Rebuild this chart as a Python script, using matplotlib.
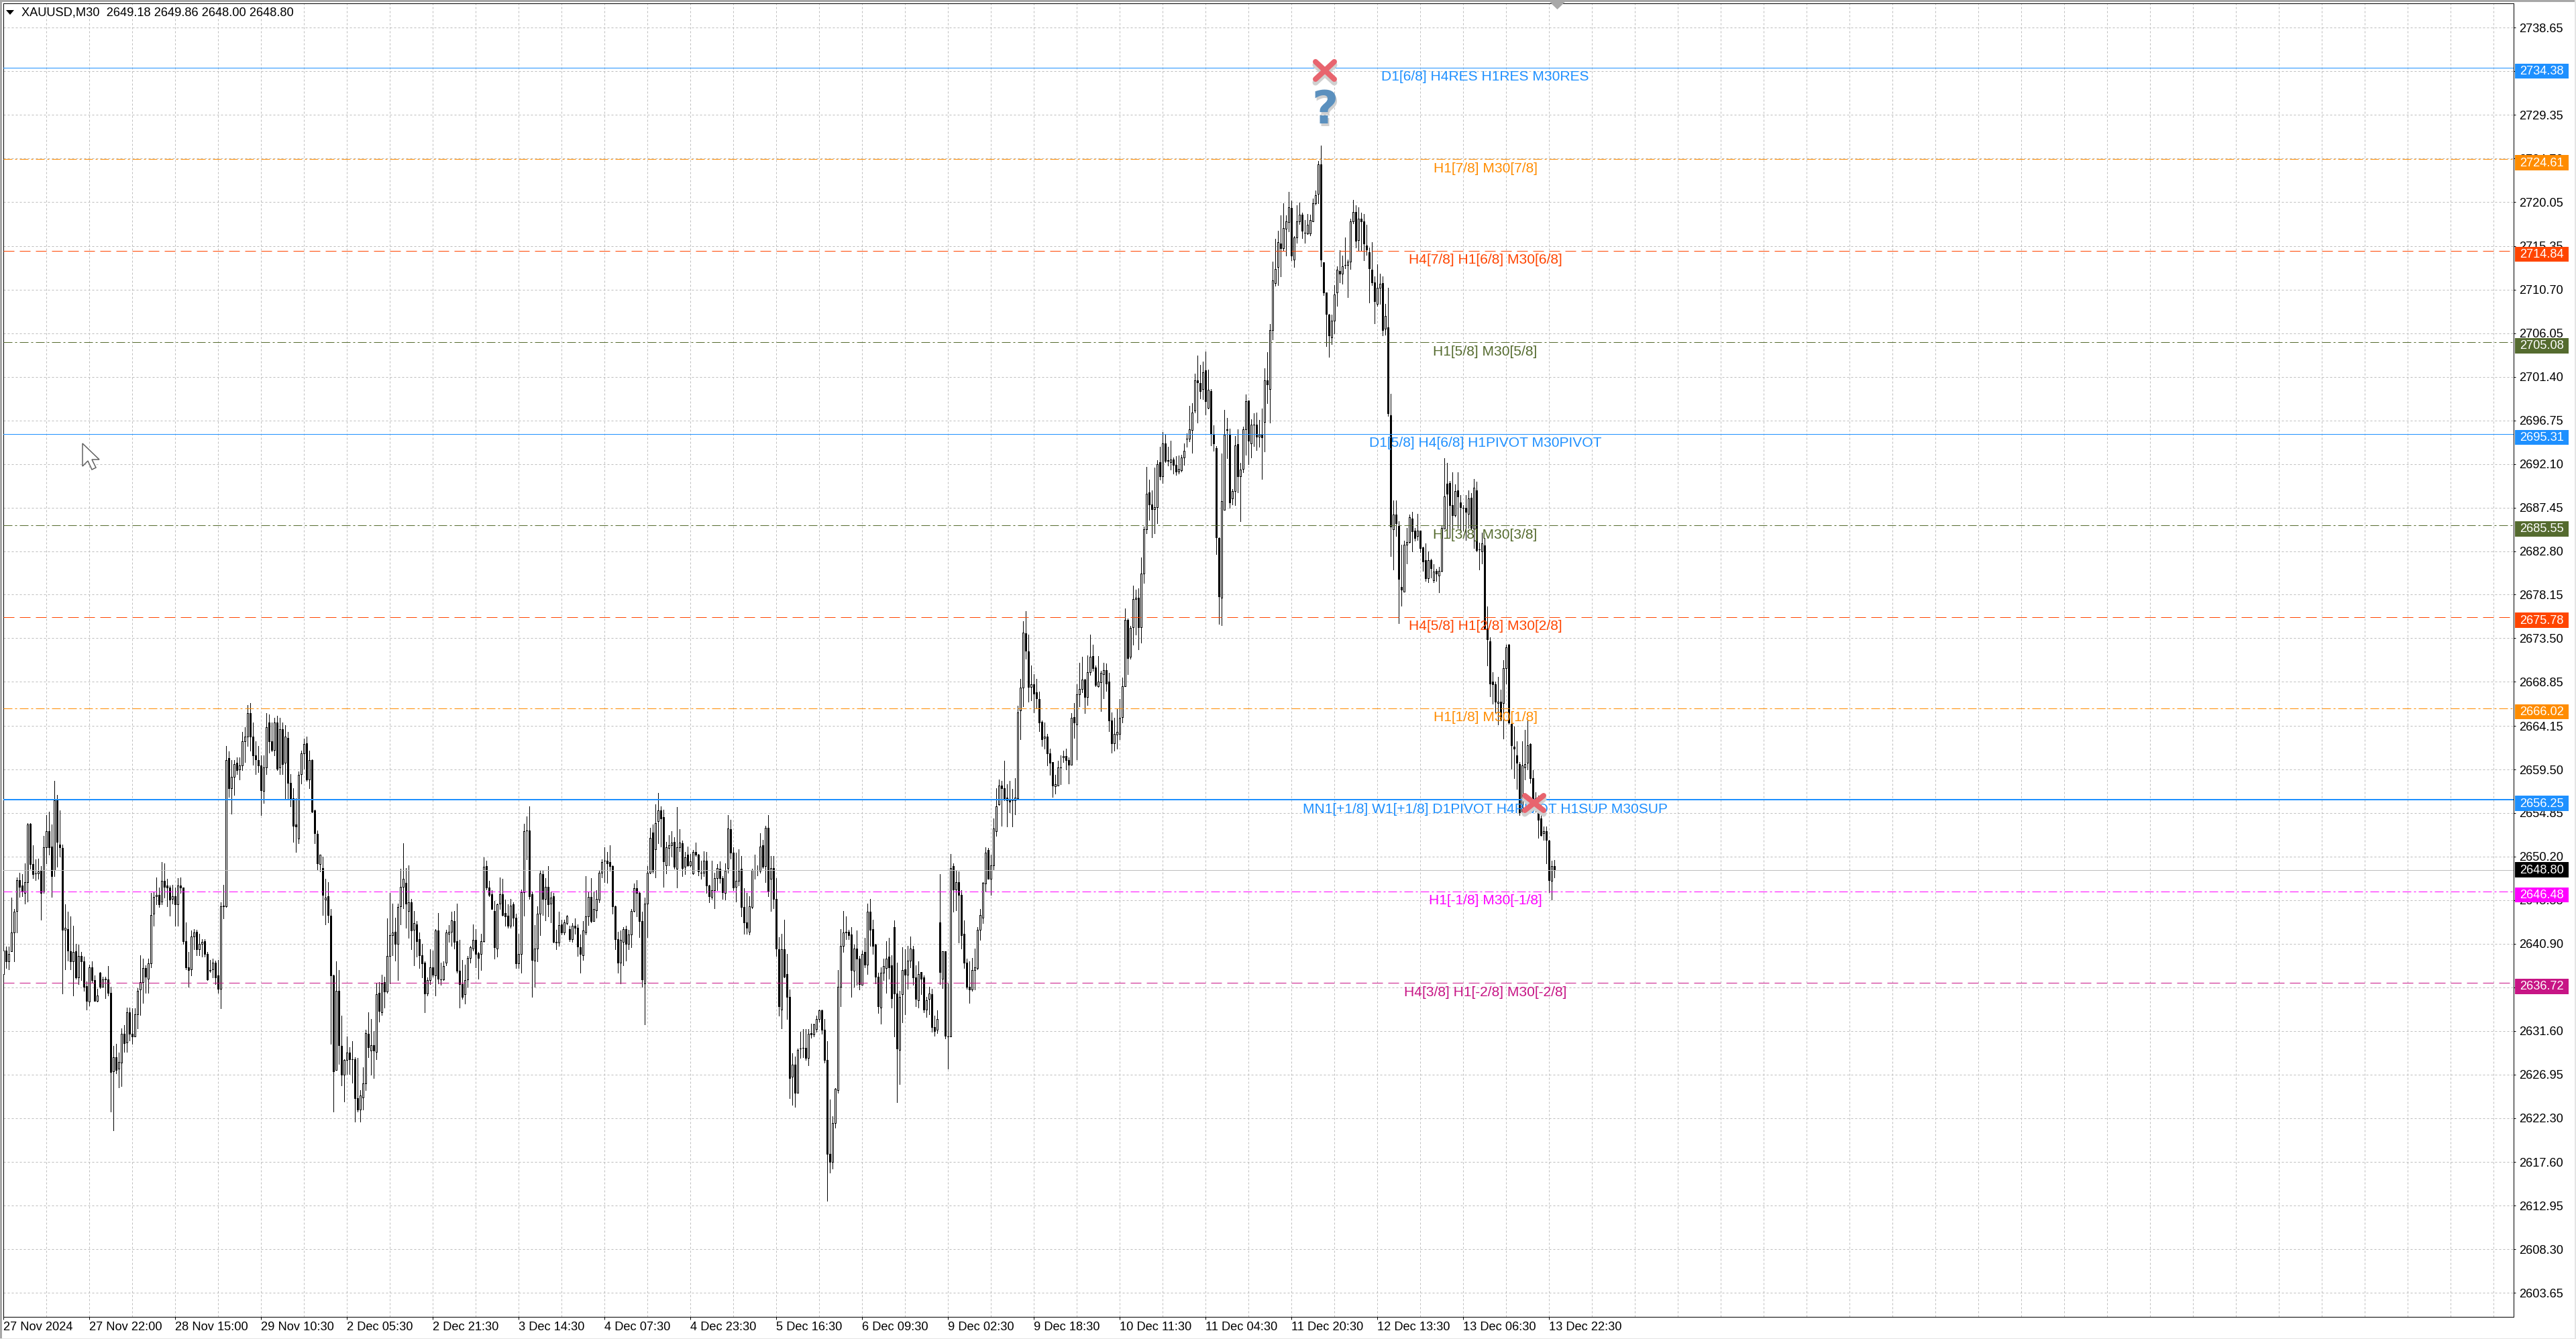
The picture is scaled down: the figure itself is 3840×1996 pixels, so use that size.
#!/usr/bin/env python3
"""XAUUSD M30 chart with level lines, MT4 look. Prices are kept as offsets from PRICE_BASE."""
import matplotlib
matplotlib.use("Agg")
import matplotlib.pyplot as plt
from matplotlib.patches import Rectangle, Polygon
from matplotlib.lines import Line2D
from matplotlib.transforms import IdentityTransform

PRICE_BASE = 2600.0

# (open, high, low, close)
BARS_A = [(37.7,40.3,36.6,40.2),(40.2,40.6,38.3,39.0),(39.0,40.6,38.2,39.8),(40.1,45.8,40.1,42.1),(42.1,44.6,39.0,44.3),(44.4,48.0,42.1,47.7),(47.7,48.5,45.9,47.0),(47.1,48.3,46.0,46.5),
          (46.3,49.5,45.2,47.5),(47.5,53.8,45.4,53.6),(53.7,53.8,48.9,49.4),(49.4,51.4,47.9,48.3),(48.4,49.9,47.7,48.4),(48.4,50,47.8,48.6),(48.7,49.2,43.5,46.3),(46.5,52.4,46.3,51.2),
          (51.2,54.6,49.5,52.9),(52.9,55,50.4,51.2),(51.3,53.6,45.9,48.1),(48.8,58.3,48.1,56.2),(56.2,56.8,49.1,51.8),(51.5,55.1,50.2,51.2),(51.1,51.5,35.6,42.4),(42.4,45.1,38.2,42.6),
          (42.5,44.3,39.1,40.2),(40.1,43.8,38.2,39.0),(39.0,42.8,35.4,40.0),(40.1,40.9,37.2,37.3),(37.3,40.8,36.6,39.6),(39.6,40,37,39.0),(39.0,39.5,35.9,36.3),(36.4,36.9,33.9,34.8),
          (34.7,38.7,34.3,38.4),(38.4,39,36.8,37.0),(37,37.5,34.8,34.8),(34.8,36.1,34.7,35.4),(37.8,37.9,36.2,36.3),(36.3,37.4,36.3,37.1),(37.1,37.4,35.1,37.2),(37.1,38.5,35.4,35.7),
          (35.7,36.3,23,27.2),(27.3,30,21,28.8),(28.8,30.2,27.1,27.4),(27.6,29.3,25.6,28.3),(28.2,31.9,25.7,31.3),(31.3,32.2,29.4,30.3),(30.4,34.1,29.4,33.6),(33.6,34.1,30.6,31.3),
          (31.3,34,30.2,31.0),(31,34,31,33.4),(33.4,36.2,31.9,35.9),(36,39.7,33.3,36.8),(36.8,39.3,34.6,38.3),(38.3,38.6,35.7,37.4),(37.2,39.3,35.7,38.8),(38.8,46.3,38.4,44.0),
          (44.1,46.5,42.8,45.9),(46,48,45.1,46.1),(46.1,46.9,44.8,45.1),(45.4,49.6,45.1,47.6),(47.6,49.5,45.8,47.0),(47.1,47.8,44.9,46.9),(46.9,47.1,43.9,45.6),(45.7,47.2,45.2,46.0)]
BARS_B = [(46,46.9,42.8,45.1),(45.1,47.9,42.8,47.1),(47.1,48,46.3,46.9),(46.9,46.9,40.9,41.2),(41.2,43.2,38.2,38.4),(38.4,40,36.3,38.1),(38.2,42.3,37.5,41.7),(41.7,42.5,40.3,42.1),
          (42.2,42.4,39.7,40.3),(40.3,42,39.7,40.9),(40.9,41.4,39.5,41.1),(41.2,41.4,39.5,39.8),(39.8,40,37,37.1),(38,39.2,37.9,38.1),(38.2,39.3,37.3,38.9),(38.9,39.1,36.6,37.3),
          (37.5,39.2,35.7,36.1),(36.1,45.3,34.0,44.9),(45,47.2,43.6,44.9),(44.9,62.0,44.8,60.5),(60.7,61.4,56.6,57.5),(57.5,60.5,54.8,58.7),(58.7,60.5,56.8,60.1),(60.2,60.8,59.0,59.4),
          (59.5,60.8,58.4,59.9),(59.9,63.5,59.4,62.5),(62.5,64,60.3,63),(63,66.4,62,65.5),(65.5,66.6,61.5,63),(63,64.5,60,61),(61,62.5,59,60.6),(60.5,62,59.2,59.9),
          (59.9,61,54.6,57.3),(57.2,61,55.9,59.7),(59.7,65.5,59,64),(64.5,65.4,61.3,62.5),(62.5,64.5,61.4,61.6),(61.6,65,61,64.5),(64.5,65.2,59.4,59.6),(59.7,65,59,63.8),
          (63.8,64.5,59,60.1),(60.2,64.2,56.3,63),(62.9,63.5,56.3,58.1),(58.1,59,55.6,56.4),(56.4,57.5,51.8,53.5),(53.6,56.4,50.7,53.4),(52.1,59.3,51.6,58.9),(59,61.5,58,61.2),
          (61.2,62.8,59.6,62.2),(62.3,63,58.3,58.4),(58.4,61.5,57.5,60.5),(60.5,60.6,54.9,55),(55.1,55.2,51.6,52.7),(52.6,53,48.8,49.5),(49.4,50.4,48.6,50.4),(49,50.2,44,46.1),
          (45.6,47.8,43,45.8),(46,47.5,43.2,44),(43.9,44.6,30.2,37.5),(37.5,37.6,23,27.3),(27.4,39,27.4,35.9),(35.9,38.1,28.1,30.1),(30,33.2,25.8,26.9),(26.9,28.6,24.1,28.5)]
BARS_C = [(28.5,31,27,29.3),(29.3,29.9,27,28.6),(28.6,30.5,26.1,28.6),(28.6,28.8,21.9,24.4),(24.4,28.7,23,23.2),(23.2,25.3,21.9,24.7),(24.5,27.7,23.2,26),(26,31.7,25.3,31.4),
          (31.3,33.6,28.8,29.9),(29.5,32.9,26.9,30.1),(30.1,31.6,26.6,29.5),(29.4,36.7,28.6,35.5),(35.7,36.8,32.6,33.7),(33.6,37.6,33.3,36.7),(36.8,37.4,34.1,35.8),(35.8,43.6,35.7,39.6),
          (39.6,46.3,36.7,41.8),(41.8,45.2,39.7,42.1),(42.2,43.7,39.1,40.9),(40.9,45.2,37,44.8),(44.9,48.9,43,47),(47,51.6,44.7,47.8),(47.4,49,42.6,45.2),(44.4,49.3,41.5,45.3),
          (45.3,45.7,40.3,42.3),(42.4,44.4,38.6,43.1),(43,43.3,39.5,41.2),(41.4,42.1,38.3,39.7),(39.7,40.9,37.3,38.8),(38.9,39,33.6,35.6),(35.6,37.3,35.4,37),(37,40.3,36.6,38.4),
          (38.4,40.2,37.4,37.6),(37.5,42.5,35.4,42.3),(42.3,44.2,36.7,37.2),(37.1,38.9,36.5,37.1),(37.1,39,37,38.5),(38.9,42.4,38.6,42.1),(42,42.9,41.1,42.2),(42.2,44.3,40.7,43.4),
          (43.3,44.4,40.4,41.1),(41.2,45.2,37.8,38),(38,41.3,34.1,36.6),(36.6,39.2,35,35.2),(35.5,38.7,34.5,37),(37.1,39.6,36.3,39.4),(39.4,40.7,38.9,40.5),(40.4,43,40.2,41.3),
          (41.3,42.5,38.4,39.8),(39.9,40,37.2,39.4),(39.8,42,38.1,41.2),(41.2,50.1,41.1,49.1),(49.2,49.8,46.7,46.9),(46.9,47.6,46,46.1),(46.2,46.6,44.6,44.6),(44.4,45.5,39.3,40.5),
          (40.4,45.2,39.5,45.1),(45.2,48,44.6,46.2),(46.2,47.8,43.9,44),(44.2,45.6,42.8,43.8),(43.9,45.1,42.6,42.8),(42.8,45.7,42.6,45),(45.1,45.3,42.8,43.7),(43.7,44.1,38.3,38.8)]
BARS_D = [(38.8,42,38.3,39.8),(39.8,46.7,37.8,46.4),(46.4,53.7,43.9,52.9),(53,54.5,49.9,53),(53,55.6,45.7,46),(46.2,46.5,35.2,39.2),(39.1,42.9,36.3,40.4),(40.4,44.9,39,44.1),
          (44.1,48.7,41.8,48.4),(48.3,48.8,44,45.7),(45.7,47.9,43.4,47),(47,49.2,43.8,45.1),(45.2,46.5,43.2,45.8),(46,46.3,41,41.1),(41.1,42.4,40.3,41),(41,44.3,40.7,42.9),
          (43,43.5,41.9,42.1),(42.1,43.5,41.9,43.2),(43.1,44,43,43.8),(42.5,42.8,41.2,41.4),(41.4,43.1,41.1,42.8),(42.8,43.6,42,42.6),(42.6,43,39.6,40.6),(40.5,41.9,37.8,39.8),
          (39.7,43.3,39.2,42.3),(42.1,48.1,41.9,43.8),(43.8,46.4,42.9,45.9),(45.9,47.9,43.2,43.3),(43.3,46.5,43.3,44.6),(44.5,46.6,43.7,45.7),(45.6,48.7,45.3,48.5),(48.5,49.9,48,49.6),
          (49.8,51.2,47.5,49.8),(49.8,50.7,47.4,49.5),(49.6,51.4,48.7,49.2),(49.2,49.3,44.1,44.9),(44.9,45,40.3,41.4),(41.4,42.2,37.8,38.9),(38.9,42.3,36.7,41.3),(41.1,42.7,38.6,42.5),
          (42.5,42.8,39.1,40.9),(40.9,42.4,40.3,41.9),(41.9,44.6,40.5,44.4),(44.4,47.3,44.3,46.8),(46.8,47.7,43.8,46.3),(46.3,46.4,41.6,43.3),(43.3,44.3,36.3,37.1),(36.7,45.8,32.3,45.2),
          (45.2,49.2,41.6,48.5),(48.5,53.3,48.4,52.2),(52.8,53.6,48.5,48.7),(51,55.8,48,53.8),(54,57,51.6,55.1),(55.1,55.6,51.3,54.3),(54.4,55.2,47,49.7),(49.3,51.8,48.4,51.2),
          (51.1,52.5,49.3,51.4),(51.4,52.9,50.2,51.7),(51.8,52.3,48.9,49.1),(48.9,55.5,46.9,51.2),(51.2,53.1,50.8,51.7),(51.6,51.9,48.1,49),(49.1,50.7,48.3,50.1),(50.4,51.3,49.2,49.3)]
BARS_E = [(49.3,50.5,49.1,49.7),(48.4,50.9,48.3,50.7),(50.7,51.7,50.3,50.4),(50.4,50.5,48.2,48.6),(48.5,49.8,47.8,48.5),(48.5,50.8,48.1,49.8),(49.8,50.7,46.3,47.1),(47.1,47.2,45.3,46),
          (45.9,49.8,45.7,46.6),(46.6,48.5,44.7,47.9),(47.9,49.4,46.6,49),(48.9,49.7,47.4,47.9),(47.9,48.1,45.7,46.4),(46.3,49.5,45.6,48.7),(49,54.6,48.5,53.2),(53.1,54.1,50,50.6),
          (50.6,51.2,46.6,46.9),(47,50.6,45.4,47.6),(47.6,51,47.1,48.7),(48.9,50.3,43.8,44.8),(44.8,46.8,42,43.2),(43.2,46.3,42,42.6),(42.2,46,41.9,44.9),(44.8,48.9,44.7,48.8),
          (48.8,50.4,47.8,48.8),(48.8,49.3,48.2,48.8),(48.7,52.7,48.5,51.3),(51.4,52,49,49.1),(49.2,53.5,47.5,53.3),(53.3,54.6,46,46.5),(47.8,50.3,44.4,49),(49,50.3,44.7,45.7),
          (45.7,47.9,39.6,40.4),(40.3,41.6,33.2,34.2),(33.9,42,31.9,40.3),(40.3,43.5,37.3,37.4),(37.7,39.8,32.9,35.2),(35.2,36,24.4,26.6),(26.7,29.2,23.7,28),(28,28.9,23.5,25),
          (25,29.7,25,29.6),(29.7,31.5,28.7,29.7),(29.8,31.8,28.8,29.8),(29.8,31.8,28.5,28.7),(28.7,31.8,27.9,31.3),(31.4,32.4,30.9,31.2),(31.2,32.4,31,32.3),(31.8,33.2,31.5,32.9),
          (32.9,33.9,32.6,33.8),(33.8,33.9,31.3,31.7),(31.7,32.9,28.2,28.5),(28.5,30.5,13.5,18.5),(18.5,24.3,16.5,17.6),(17.6,22.5,16.9,21.8),(21.8,25.5,21.3,25.4),(25.3,38.1,25,36.3),
          (36.3,42.5,34.2,40.7),(40.7,44.4,40,42.1),(42.1,43.8,41.4,42.2),(42.2,42.4,41.4,41.8),(41.9,42.7,35.2,38.1),(38,40.8,36.3,40.4),(40.4,42.3,36.5,39.3),(39.3,39.6,36,36.6)]
BARS_F = [(36.5,40.2,36.5,39.8),(40,41.5,38.4,38.7),(38.7,45.2,37.7,44.3),(44.3,45.7,40.7,42.4),(42.5,43.5,39.8,40.7),(40.8,40.9,36.7,37.4),(37.4,37.8,33.5,34.2),(34.1,38.4,32.4,37.8),
          (37.8,39.3,37,38.5),(38.3,41.2,35.7,39.3),(39.5,41.5,37.2,38.4),(38.6,39.7,34.1,35.1),(42.7,43.4,31,35.6),(35.6,38.9,24,29.7),(29.6,35.9,25.9,35.2),(35.5,40.5,32.5,38.1),
          (38.2,40.3,33.4,37.6),(37.6,40.7,36.1,39.1),(39.1,41.7,38.4,40.4),(40.3,40.7,36.5,37.3),(37.3,38.6,34.2,35),(34.9,39,34.1,37.7),(37.9,37.9,35.5,37.2),(37.3,37.5,33.6,33.9),
          (33.9,35.2,33.1,34.9),(35,36.3,33.4,35.6),(35.5,36.1,31.5,32),(32,33.2,31.1,31.6),(31.7,33.8,31.4,32.9),(43.2,48.3,36.6,37.9),(37.2,40.1,36.2,40.1),(40.1,40.1,30.8,31.1),
          (31,36.7,27.6,31),(31,50.5,31,49),(49.2,49.5,44.3,46.7),(46.7,48.7,44.5,47.5),(47.5,48.6,41,46.1),(46.1,46.6,40.4,41.8),(42,43.4,38.3,38.9),(38.9,39.3,36.1,36.3),
          (36.3,39,34.6,36),(36,39.4,35.9,38.1),(38.1,40.4,36,38.4),(38.3,42.7,38.2,42.4),(42.4,44.6,41.3,44),(43.7,47.5,43.1,47.4),(47.3,51.2,46.5,50.6),(50.9,51.1,47.8,47.8),
          (47.8,50.4,46.1,49.3),(49.3,54.3,48.8,53.2),(52.9,57.5,52.4,55.6),(55.8,58.4,55.7,57.8),(57.8,58.3,53.5,57.5),(57.5,60.4,56.2,56.4),(56.5,57.9,53.4,56.2),(56.3,58.3,54.9,56.1),
          (56.3,57.4,53.4,56.2),(56.2,58.6,54.7,56.5),(56.4,66.3,56.3,65.6),(65.8,69.2,62.7,68.2),(68.2,75.3,66.2,74.1),(74,76.4,71.3,72.2),(72.1,73.9,66.7,68.3),(68.3,70.6,66.9,68.6)]
BARS_G = [(68.6,69.7,65.6,67.6),(67.7,69.2,66,67.1),(67,67.8,63.6,64.5),(64.6,64.7,62,62.7),(62.9,64.5,61.7,63),(63,63.3,59.9,61.2),(61.2,61.7,58.9,60.2),(60.3,60.3,56.6,57.8),
          (57.7,58.9,56.9,57.9),(57.8,60.4,57.8,59.7),(59.7,61,57.9,59.7),(60.8,61.5,60.3,60.9),(60.9,61.7,59.5,60.5),(60.5,60.8,58,60),(60,65.5,60,65),(65.1,66.6,62.9,64.5),
          (64.3,68.6,60.6,67.5),(67.5,70.9,66.2,68.1),(68.1,71.5,67.7,69.1),(69.1,69.2,65.5,67.2),(67.2,71.7,66.4,69.9),(69.9,73.9,69.6,71.5),(71.6,72.8,70,70.3),(70.4,70.6,68.4,68.5),
          (68.4,71.6,68.3,68.9),(68.8,70,65.7,69.8),(69.7,70.9,67.1,70.1),(70.1,70.8,67.9,68.7),(68.9,69.8,63.6,64.7),(64.7,65.6,61.3,62.3),(62.3,65,61.5,63.3),(63.2,66,61.7,63.5),
          (63.3,67,62.7,65),(65.1,69.3,64.5,68.4),(68.4,76.7,68.4,75.5),(75.5,75.6,69.7,71.4),(71.5,74.8,71.3,74.6),(74.7,79.1,72.8,77.7),(77.7,78.7,73.9,77.8),(77.8,78.8,72.3,74.7),
          (74.7,82.1,73,80.4),(80.4,85.4,79.4,85.1),(85.1,91.8,84.7,88.9),(89.1,90.4,86.1,87.8),(87.8,89.3,84.3,87.3),(87.3,91.7,84.7,87.5),(87.5,92.5,85.8,92.1),(92.3,93.9,90.4,90.8),
          (90.8,95.5,90.1,94.3),(94.3,95.2,92.3,92.4),(92.5,93.9,91.9,92.4),(92.3,94.6,91.5,92.6),(92.6,92.8,91.1,92),(92,92.9,90.9,91.3),(91.3,93,91.1,91.6),(91.4,93.1,91.3,92.8),
          (92.8,94.3,92,93.5),(94.8,95.4,93.9,94.8),(94.8,98.3,94.5,95.8),(95.7,98.6,93.3,97.6),(97.8,101.7,97.6,101),(101,103.7,96.5,100.8),(100.7,102.7,99.1,99.9),(100.1,103,99,101.9)]
BARS_H = [(102.1,104.1,97.4,98.8),(98.1,102.2,98,100),(99.9,100.1,94.1,95.4),(95.3,96.2,93.5,94.3),(93.8,94,82.5,84.3),(84.2,84.3,75,78),(77.8,93.2,74.9,88.1),(87.2,97.9,87.2,95.2),
          (95.7,97,92.7,95.8),(95.3,95.9,87.4,88),(88.4,89.4,87.8,89.2),(89.2,95.1,87.7,94.1),(94.2,95.8,89.1,90.8),(90.8,92.2,86,91.5),(91.6,96.1,91.2,95.8),(95.8,99.5,93.1,98.8),
          (98.9,98.9,92.1,94.6),(94.3,96.9,92.8,96.3),(96.3,97.5,94,96.3),(96.3,97.6,93.6,95),(95,96.8,93.9,95.2),(95.2,98,90.5,94.9),(96.6,102.3,93.4,101),(101,104,98.6,100.6),
          (100.1,107,96.5,106.4),(106.4,113.7,105.4,111.7),(111.4,116.1,111.1,112.9),(113.1,117,111.2,115.8),(115.6,118.6,112.1,115.1),(115.1,119.9,114.9,117.3),(117.2,118.6,114.3,118),(117.9,121.1,116.9,119.5),
          (119.4,120.2,113.8,114.3),(113.9,116.4,113.1,116.3),(116.3,119.7,115.7,118),(118,120,117.7,118.7),(118.7,118.9,116.2,117),(116.8,118.1,115.7,116.8),(116.7,118.8,116.6,117.6),(116.7,118.7,116.5,118.1),
          (118,120.4,118,119.9),(119.9,121.3,119.8,120.8),(120.9,124.4,119.9,124.1),(124.1,126.1,113.2,113.9),(113.6,113.6,110.1,110.4),(110.4,110.4,104.7,108.1),(108,108.1,103.5,105.8),(105.6,108,104.9,107.4),
          (107.4,111.2,106,110.2),(110.4,113.2,109,112.8),(112.7,114.9,111.5,112.4),(112.4,114.3,111.3,113.2),(113.3,116.3,113,113.3),(113.3,113.9,109.9,113.7),(113.7,118.3,112.9,118),(118,120.3,117.8,119),
          (119,119.7,115.2,115.9),(116,119.5,114.9,118.3),(118.3,118.9,114.9,118),(118,118.8,113.8,115.6),(115.4,117.6,114.4,115),(114.7,115.2,109.3,113),(112.8,115.8,111.2,111.5),(111.5,112.1,107.1,109.5)]
BARS_I = [(109.2,113.4,109,110.9),(110.9,112.4,109.2,111.3),(111.4,112.1,105.8,106.4),(106.5,109.2,105.9,107.9),(106.7,110.9,97.2,97.5),(97.3,99.6,82.3,85.4),(85.1,88.2,80.8,86.7),(86.7,88.2,84.4,85.8),
          (85.5,86,75.1,79.8),(79,83.5,77,78.7),(78.5,83.9,78.5,83.5),(83.5,85.3,81.5,83.8),(83.8,86.7,83.7,86.4),(86.3,87,82.8,84.9),(85,85.3,83.9,84.2),(84.4,86.8,84,85),
          (85,85,82.7,83.1),(83.2,83.3,80.7,81.7),(81.8,83.6,79.6,79.9),(79.9,82.8,79.5,81.8),(81.8,82,80,81),(79.7,81.4,79.5,80.6),(80.7,80.9,79.6,80.4),(80.2,81.1,78.4,80.7),
          (80.7,85.5,80.6,85.3),(85.2,92.7,85.2,88.6),(90,92.2,84.2,88.9),(90.1,90.3,84.3,87.7),(87.7,91.2,84.4,86.6),(86.6,89.9,86.5,89.2),(89.3,91.2,85.3,88.6),(88,88.8,85.1,87.5),
          (87.4,87.7,85,87.4),(87.4,88.8,84,87),(86.8,89.3,85.3,88.4),(88.5,89,85.1,85.3),(85.2,90.5,83.1,89.6),(89.3,90.2,82.8,82.9),(83,83.7,80.8,83),(82.8,84.8,81.5,83.6),
          (83.4,84.2,74.5,74.5),(74.5,76.9,70.6,73.4),(73.2,73.6,67.3,68.7),(68.9,69.9,66.5,68.6),(68.6,68.9,65.6,66.7),(66.6,69.4,64.3,66.7),(66.7,68,64.7,64.8),(66.6,71.2,62.8,70.3),
          (70.3,72.8,68.7,72.5),(72.8,72.9,64.4,64.5),(64.4,64.7,59.6,62.1),(61.9,64.1,58.6,61.7),(61,62.5,57.4,60.2),(60.1,60.3,54.6,54.9),(55,62.5,54.9,59.9),(59.7,63.7,58.4,60.1),
          (60.2,64.7,59.5,62.1),(62.2,62.3,58.1,58.6),(58.6,59.4,55.7,56),(56.4,57.1,55,55.7),(55.9,56.7,52.2,54.1),(54.3,55.9,52.4,52.5),(52.7,53.4,52,52.9),(52.9,53.4,49.5,52),
          (51.9,52,46.4,47.7),(47.6,49.8,45.6,49.2),(49.18,49.86,48.0,48.8)]

Y_TICKS = [2738.65, 2734.00, 2729.35, 2724.70, 2720.05, 2715.35, 2710.70, 2706.05, 2701.40, 2696.75,
           2692.10, 2687.45, 2682.80, 2678.15, 2673.50, 2668.85, 2664.15, 2659.50, 2654.85, 2650.20,
           2645.55, 2640.90, 2636.25, 2631.60, 2626.95, 2622.30, 2617.60, 2612.95, 2608.30, 2603.65]
X_LABELS = ["27 Nov 2024", "27 Nov 22:00", "28 Nov 15:00", "29 Nov 10:30", "2 Dec 05:30", "2 Dec 21:30",
            "3 Dec 14:30", "4 Dec 07:30", "4 Dec 23:30", "5 Dec 16:30", "6 Dec 09:30", "9 Dec 02:30",
            "9 Dec 18:30", "10 Dec 11:30", "11 Dec 04:30", "11 Dec 20:30", "12 Dec 13:30", "13 Dec 06:30",
            "13 Dec 22:30"]

LEVELS = [2734.38, 2724.61, 2714.84, 2705.08, 2695.31, 2685.55, 2675.78, 2666.02, 2656.25, 2646.48, 2636.72]
LEVEL_TEXT = ["D1[6/8] H4RES H1RES M30RES", "H1[7/8] M30[7/8]", "H4[7/8] H1[6/8] M30[6/8]", "H1[5/8] M30[5/8]",
              "D1[5/8] H4[6/8] H1PIVOT M30PIVOT", "H1[3/8] M30[3/8]", "H4[5/8] H1[2/8] M30[2/8]", "H1[1/8] M30[1/8]",
              "MN1[+1/8] W1[+1/8] D1PIVOT H4PIVOT H1SUP M30SUP", "H1[-1/8] M30[-1/8]", "H4[3/8] H1[-2/8] M30[-2/8]"]
LEVEL_COLOR = ["#1E90FF", "#FF8C00", "#FF4500", "#556B2F", "#1E90FF", "#556B2F", "#FF4500", "#FF8C00",
               "#1E90FF", "#FF00FF", "#C71585"]
LEVEL_STYLE = ["solid", "dashdot", "dash", "dashdot", "solid", "dashdot", "dash", "dashdot", "solid", "dashdot", "dash"]
LEVEL_WIDTH = [1, 1, 1, 1, 1, 1, 1, 1, 2, 1, 1]
BID = 2648.80
HEADER = "XAUUSD,M30  2649.18 2649.86 2648.00 2648.80"

W, H = 3840, 1996
PX = 0.72  # one pixel in points at dpi 100
AX_L, AX_R, AX_T, AX_B = 5, 3747, 4.5, 1962.5
BAR0_PX, BAR_STEP = 5.3, 4.0
PRICE0, PRICE0_Y, PX_PER_UNIT = 2738.65, 41.3, 13.97

bars = BARS_A + BARS_B + BARS_C + BARS_D + BARS_E + BARS_F + BARS_G + BARS_H + BARS_I
assert len(bars) == 579, len(bars)
opens = [PRICE_BASE + b[0] for b in bars]
highs = [PRICE_BASE + b[1] for b in bars]
lows = [PRICE_BASE + b[2] for b in bars]
closes = [PRICE_BASE + b[3] for b in bars]

plt.rcParams["font.family"] = ["Liberation Sans", "DejaVu Sans"]
plt.rcParams["lines.scale_dashes"] = False
plt.rcParams["lines.dash_capstyle"] = "butt"
FS = 18.3 * PX
FS_LEVEL = 21 * PX

fig = plt.figure(figsize=(W / 100, H / 100), dpi=100, facecolor="white")
ax = fig.add_axes([AX_L / W, 1 - AX_B / H, (AX_R - AX_L) / W, (AX_B - AX_T) / H])
ax.set_xlim((AX_L - BAR0_PX) / BAR_STEP, (AX_R - BAR0_PX) / BAR_STEP)
ax.set_ylim(PRICE0 - (AX_B - PRICE0_Y) / PX_PER_UNIT, PRICE0 + (PRICE0_Y - AX_T) / PX_PER_UNIT)
ax.set_axisbelow(True)
for s in ax.spines.values():
    s.set_linewidth(1 * PX)
    s.set_color("black")

# grid: a vertical line every 16 bars, labels every 32
grid_dash = (0, (3 * PX, 3 * PX))
for x in range(16, 936, 16):
    ax.axvline(x, color="#BDBDBD", lw=1 * PX, ls=grid_dash, zorder=1)
for y in Y_TICKS:
    ax.axhline(y, color="#BDBDBD", lw=1 * PX, ls=grid_dash, zorder=1)

ax.yaxis.tick_right()
ax.set_yticks(Y_TICKS)
ax.set_yticklabels(["%.2f" % y for y in Y_TICKS], fontsize=FS)
ax.tick_params(axis="y", direction="out", length=3 * PX, width=1 * PX, pad=5.5 * PX)
ax.set_xticks([32 * i for i in range(len(X_LABELS))])
ax.set_xticklabels(X_LABELS, fontsize=FS, ha="left")
ax.tick_params(axis="x", direction="out", length=4 * PX, width=1 * PX, pad=3.5 * PX)

# candles
xs = list(range(len(bars)))
ax.vlines(xs, lows, highs, color="black", lw=1 * PX, zorder=2, antialiased=False)
up = [i for i in xs if closes[i] >= opens[i]]
down = [i for i in xs if closes[i] < opens[i]]
ax.bar(up, [closes[i] - opens[i] for i in up], bottom=[opens[i] for i in up], width=0.5,
       facecolor="white", edgecolor="black", linewidth=1 * PX, zorder=3, antialiased=False)
ax.bar(down, [opens[i] - closes[i] for i in down], bottom=[closes[i] for i in down], width=0.5,
       facecolor="black", edgecolor="black", linewidth=1 * PX, zorder=3, antialiased=False)

# level lines with their captions and price boxes
DASHES = {"solid": "-", "dash": (0, (16 * PX, 8 * PX)), "dashdot": (0, (13 * PX, 4 * PX, 3 * PX, 4 * PX))}
for lvl, txt, col, st, lw in zip(LEVELS, LEVEL_TEXT, LEVEL_COLOR, LEVEL_STYLE, LEVEL_WIDTH):
    ax.axhline(lvl, color=col, lw=lw * PX, ls=DASHES[st], zorder=4)
    ax.annotate(txt, xy=(552.2, lvl), xytext=(0, -14), textcoords="offset pixels", color=col, fontsize=FS_LEVEL,
                ha="center", va="center", zorder=5, annotation_clip=False)
ax.axhline(BID, color="#BDBDBD", lw=1 * PX, zorder=4)

fig.canvas.draw()
ident = IdentityTransform()


def ypx(price):
    return ax.transData.transform((0, price))[1]


def box(price, col, shift):
    yc = ypx(price) - shift
    fig.add_artist(Rectangle((3749, yc - 11.3), 80, 22.6, transform=ident, facecolor=col, edgecolor="none", zorder=6))
    fig.add_artist(plt.Text(3789, yc - 0.5, "%.2f" % price, transform=ident, color="white", fontsize=FS,
                            ha="center", va="center", zorder=7))


for lvl, col in zip(LEVELS, LEVEL_COLOR):
    box(lvl, col, 5.2)
box(BID, "black", 0)

# window edges
for rect, col in [((0, H - 2.5, W, 2.5), "#A8A8A8"), ((0, 0, 2.5, H), "#A8A8A8"),
                  ((W - 2, 0, 2, H), "#E4E4E4"), ((0, 0, W, 1.5), "#E4E4E4")]:
    fig.add_artist(Rectangle(rect[:2], rect[2], rect[3], transform=ident, facecolor=col, edgecolor="none", zorder=8))

# header and small markers
fig.add_artist(Polygon([(9, H - 15), (21, H - 15), (15, H - 22)], transform=ident, facecolor="black", zorder=8))
fig.add_artist(plt.Text(31.5, H - 19.5, HEADER, transform=ident, color="black", fontsize=FS, ha="left", va="center", zorder=8))
fig.add_artist(Polygon([(2309, H - 2), (2334, H - 2), (2321.5, H - 14)], transform=ident, facecolor="#A8A8A8",
                       edgecolor="none", zorder=9))

# mouse cursor
arrow = [(0, 0), (0, 34), (8, 26), (14, 39), (20, 36), (14, 24), (25, 24)]
fig.add_artist(Polygon([(123 + a, H - 661 - b) for a, b in arrow], transform=ident, facecolor="white",
                       edgecolor="#606060", lw=1.5 * PX, zorder=8))


# the two red crosses and the question mark sit on top of the chart as icons
def cross(cx, cy, half_w, half_h):
    for dx, dy, col, width in [(0, -5, "#D0D0D0", 9), (0, 0, "#E8646E", 8)]:
        for sign in (1, -1):
            fig.add_artist(Line2D([cx - half_w + dx, cx + half_w + dx],
                                  [H - cy + sign * half_h + dy, H - cy - sign * half_h + dy],
                                  transform=ident, color=col, lw=width * PX, solid_capstyle="round", zorder=9))


cross(1975, 105, 14, 13)
cross(2287, 1197, 14, 11)
fig.add_artist(plt.Text(1977, H - 169, "?", transform=ident, color="#D0D0D0", fontsize=68 * PX, fontweight="bold",
                        family="DejaVu Sans", ha="center", va="center", zorder=9))
fig.add_artist(plt.Text(1975, H - 165, "?", transform=ident, color="#5B90BE", fontsize=68 * PX, fontweight="bold",
                        family="DejaVu Sans", ha="center", va="center", zorder=9))

fig.savefig("out.png", dpi=100)
